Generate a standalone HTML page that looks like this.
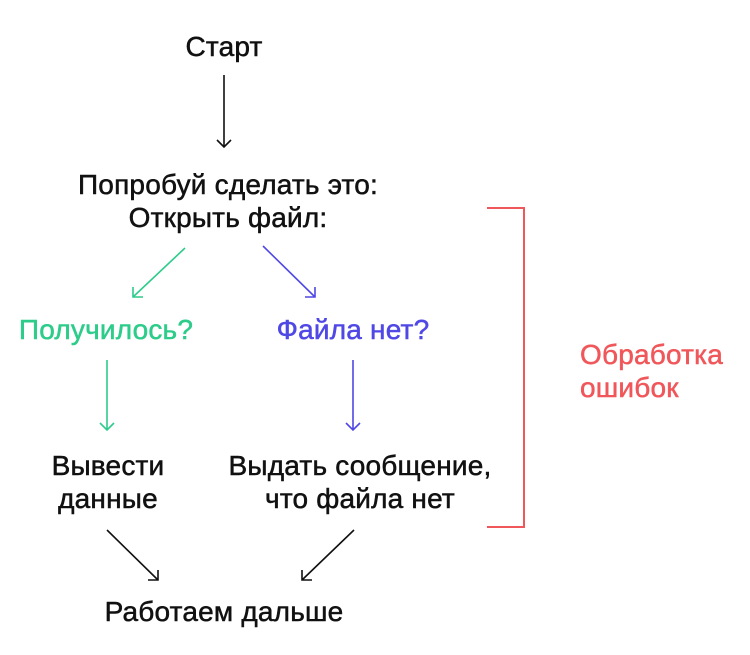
<!DOCTYPE html>
<html><head><meta charset="utf-8"><style>
body{margin:0;width:750px;height:655px;background:#fff;position:relative;overflow:hidden;font-family:"Liberation Sans","DejaVu Sans",sans-serif;}
.t{position:absolute;font-size:28px;line-height:33px;text-align:center;color:#111;white-space:nowrap;transform:translateX(-50%);-webkit-text-stroke:0.5px currentColor;letter-spacing:0.2px}
svg{position:absolute;left:0;top:0}
</style></head><body>
<svg width="750" height="655" fill="none" stroke-width="1.6">
<g stroke="#111"><path d="M224 75V147M217 140L224 147L231 140"/>
<path d="M107 530L158 580M148 580H158V570"/>
<path d="M354 530L302 580M312 580H302V570"/></g>
<g stroke="#2ecc8a"><path d="M185 248L133 297M133 287V297H143"/><path d="M107 360V430M100 423L107 430L114 423"/></g>
<g stroke="#5048e5"><path d="M263 246L315 297M305 297H315V287"/><path d="M353 360V430M346 423L353 430L360 423"/></g>
<path d="M487 208H524V527H487" stroke="#f0575a" stroke-width="2"/>
</svg>
<div class="t" style="left:224px;top:30px">Старт</div>
<div class="t" style="left:228px;top:168px">Попробуй сделать это:<br>Открыть файл:</div>
<div class="t" style="left:106px;top:313px;color:#2ecc8a">Получилось?</div>
<div class="t" style="left:353px;top:313px;color:#5048e5">Файла нет?</div>
<div class="t" style="left:108px;top:449px">Вывести<br>данные</div>
<div class="t" style="left:360px;top:449px">Выдать сообщение,<br>что файла нет</div>
<div class="t" style="left:224px;top:595px">Работаем дальше</div>
<div class="t" style="left:580px;top:338px;transform:none;text-align:left;color:#f0575a">Обработка<br>ошибок</div>
</body></html>
